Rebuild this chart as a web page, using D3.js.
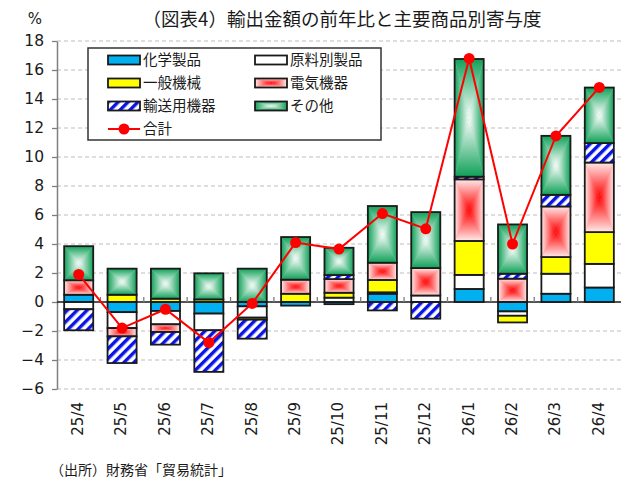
<!DOCTYPE html>
<html>
<head>
<meta charset="utf-8">
<script src="https://cdn.jsdelivr.net/npm/d3@7"></script>
<style>
  body { margin: 0; background: #fff; }
  text { font-family: "DejaVu Sans", sans-serif; fill: #1a1a1a; }
  .jp { font-family: "Noto Sans CJK JP", sans-serif; }
</style>
</head>
<body>
<svg id="chart"></svg>
<script>
// categories (year/month)
const categories = ['25/4', '25/5', '25/6', '25/7', '25/8', '25/9', '25/10', '25/11', '25/12', '26/1', '26/2', '26/3', '26/4'];

// contributions by product group (% pt)
const chemicals = [0.5, -0.7, -0.62, -0.8, -0.3, -0.25, -0.15, 0.57, 0, 0.9, -0.65, 0.57, 1.0];
const materials = [-0.5, -1.1, -0.92, -1.15, -0.78, 0, 0.3, 0.1, 0.45, 0.97, -0.3, 1.38, 1.63];
const machinery = [0, 0.5, 0.23, 0.18, -0.14, 0.57, 0.34, 0.85, 0, 2.34, -0.46, 1.15, 2.19];
const electrical = [1.0, -0.57, -0.53, 0, 0, 0.97, 0.94, 1.19, 1.89, 4.25, 1.61, 3.49, 4.8];
const transport = [-1.45, -1.84, -0.87, -2.87, -1.31, 0, 0.28, -0.58, -1.15, 0.18, 0.34, 0.8, 1.34];
const others = [2.35, 1.8, 2.07, 1.8, 2.3, 2.94, 1.88, 3.91, 3.86, 8.12, 3.4, 4.07, 3.83];

// total y/y change (%)
const total = [1.9, -1.8, -0.5, -2.8, -0.1, 4.1, 3.65, 6.1, 5.05, 16.8, 4.0, 11.45, 14.8];

const seriesKeys = ['chem', 'mat', 'mach', 'elec', 'trans', 'other'];
const seriesNames = ['化学製品', '原料別製品', '一般機械', '電気機器', '輸送用機器', 'その他'];
const yTicks = [-6, -4, -2, 0, 2, 4, 6, 8, 10, 12, 14, 16, 18];

class StackedChart {

  constructor(_config) {
    this.config = {
      parentElement: _config.parentElement,
      containerWidth: 625,
      containerHeight: 479,
      margin: { top: 41, right: 4, bottom: 90, left: 57 }
    };
    this.initVis();
  }

  initVis() {
    let vis = this;
    vis.width = vis.config.containerWidth - vis.config.margin.left - vis.config.margin.right;
    vis.height = vis.config.containerHeight - vis.config.margin.top - vis.config.margin.bottom;

    vis.svg = d3.select(vis.config.parentElement)
        .attr('width', vis.config.containerWidth)
        .attr('height', vis.config.containerHeight);

    vis.svg.append('rect')
        .attr('width', vis.config.containerWidth)
        .attr('height', vis.config.containerHeight)
        .attr('fill', '#fff');

    vis.defs = vis.svg.append('defs');
    vis.makeDefs();

    vis.chart = vis.svg.append('g')
        .attr('transform', `translate(${vis.config.margin.left},${vis.config.margin.top})`);

    vis.xScale = d3.scaleBand()
        .domain(categories)
        .range([0, vis.width])
        .paddingInner(0.33)
        .paddingOuter(0.165);

    vis.yScale = d3.scaleLinear()
        .domain([-6, 18])
        .range([vis.height, 0]);

    // title etc
    vis.svg.append('text')
        .attr('class', 'jp')
        .attr('x', 342)
        .attr('y', 26)
        .attr('text-anchor', 'middle')
        .style('font-size', '18.5px')
        .text('（図表4）輸出金額の前年比と主要商品別寄与度');

    vis.svg.append('text')
        .attr('x', 35)
        .attr('y', 24)
        .attr('text-anchor', 'middle')
        .style('font-size', '15px')
        .text('%');

    vis.svg.append('text')
        .attr('class', 'jp')
        .attr('x', 50)
        .attr('y', 475)
        .style('font-size', '14px')
        .text('（出所）財務省「貿易統計」');
  }

  makeDefs() {
    let vis = this;
    // rectangular "path" gradients built from 4 linear gradients
    const schemes = {
      red: { edge: '#ffeaea', center: '#ff0000', mid: '#ff8a8a' },
      green: { edge: '#0fa158', center: '#ffffff', mid: '#86d0aa' }
    };
    const dirs = {
      top: [0, 0, 0, 1],
      bottom: [0, 1, 0, 0],
      left: [0, 0, 1, 0],
      right: [1, 0, 0, 0]
    };
    Object.entries(schemes).forEach(([name, s]) => {
      Object.entries(dirs).forEach(([dir, c]) => {
        const lg = vis.defs.append('linearGradient')
            .attr('id', `${name}-${dir}`)
            .attr('x1', c[0]).attr('y1', c[1])
            .attr('x2', c[2]).attr('y2', c[3]);
        lg.append('stop').attr('offset', 0).attr('stop-color', s.edge);
        lg.append('stop').attr('offset', 1).attr('stop-color', s.center);
      });
    });
    vis.schemes = schemes;

    const pat = vis.defs.append('pattern')
        .attr('id', 'hatch')
        .attr('patternUnits', 'userSpaceOnUse')
        .attr('width', 7)
        .attr('height', 7)
        .attr('patternTransform', 'rotate(45)');
    pat.append('rect').attr('width', 7).attr('height', 7).attr('fill', '#fff');
    pat.append('rect').attr('width', 3.4).attr('height', 7).attr('fill', '#0a14e6');
  }

  // draw a filled box in the style of a series
  drawBox(g, key, x, y, w, h) {
    let vis = this;
    const solid = { chem: '#00b0f0', mat: '#ffffff', mach: '#ffff00', trans: 'url(#hatch)' };
    if (key in solid) {
      g.append('rect')
          .attr('x', x).attr('y', y).attr('width', w).attr('height', h)
          .attr('fill', solid[key]);
    } else {
      const scheme = key === 'elec' ? 'red' : 'green';
      const cx = x + w / 2, cy = y + h / 2;
      g.append('rect')
          .attr('x', x).attr('y', y).attr('width', w).attr('height', h)
          .attr('fill', vis.schemes[scheme].mid);
      const tris = [
        ['top', [[x, y], [x + w, y], [cx, cy]]],
        ['bottom', [[x, y + h], [x + w, y + h], [cx, cy]]],
        ['left', [[x, y], [x, y + h], [cx, cy]]],
        ['right', [[x + w, y], [x + w, y + h], [cx, cy]]]
      ];
      tris.forEach(([dir, pts]) => {
        g.append('path')
            .attr('d', 'M' + pts.map(p => p.join(',')).join('L') + 'Z')
            .attr('fill', `url(#${scheme}-${dir})`);
      });
    }
    g.append('rect')
        .attr('x', x).attr('y', y).attr('width', w).attr('height', h)
        .attr('fill', 'none')
        .attr('stroke', '#1a1a1a')
        .attr('stroke-width', 1.8);
  }

  updateVis() {
    let vis = this;
    vis.data = categories.map((c, i) => ({
      cat: c,
      chem: chemicals[i],
      mat: materials[i],
      mach: machinery[i],
      elec: electrical[i],
      trans: transport[i],
      other: others[i],
      total: total[i]
    }));

    vis.stacked = d3.stack()
        .keys(seriesKeys)
        .offset(d3.stackOffsetDiverging)(vis.data);

    vis.renderVis();
  }

  renderVis() {
    let vis = this;
    const y0 = vis.yScale(0);

    // gridlines
    vis.chart.append('g')
        .selectAll('line')
        .data(yTicks.filter(d => d !== 0))
        .join('line')
        .attr('x1', 0)
        .attr('x2', vis.width)
        .attr('y1', d => vis.yScale(d))
        .attr('y2', d => vis.yScale(d))
        .attr('stroke', '#bdbdbd')
        .attr('stroke-width', 1)
        .attr('stroke-dasharray', '4,3');

    // y axis
    vis.yAxisG = vis.chart.append('g')
        .call(d3.axisLeft(vis.yScale).tickValues(yTicks).tickSize(5).tickPadding(8).tickSizeOuter(0));
    vis.yAxisG.select('.domain').attr('stroke', '#7f7f7f').attr('stroke-width', 1.5);
    vis.yAxisG.selectAll('.tick line').attr('stroke', '#7f7f7f').attr('stroke-width', 1.3);
    vis.yAxisG.selectAll('.tick text')
        .style('font-size', '15.5px')
        .style('font-family', '"DejaVu Sans", sans-serif')
        .attr('fill', '#1a1a1a');

    // bars
    const bw = vis.xScale.bandwidth();
    vis.stacked.forEach(layer => {
      layer.forEach(seg => {
        if (Math.abs(seg[1] - seg[0]) < 0.01) return;
        const g = vis.chart.append('g');
        const top = vis.yScale(seg[1]);
        const bot = vis.yScale(seg[0]);
        vis.drawBox(g, layer.key, vis.xScale(seg.data.cat), top, bw, bot - top);
      });
    });

    // zero line and ticks between categories
    vis.chart.append('line')
        .attr('x1', 0).attr('x2', vis.width)
        .attr('y1', y0).attr('y2', y0)
        .attr('stroke', '#1a1a1a')
        .attr('stroke-width', 1.5);

    const step = vis.xScale.step();
    vis.chart.append('g')
        .selectAll('line')
        .data(d3.range(1, categories.length))
        .join('line')
        .attr('x1', d => d * step)
        .attr('x2', d => d * step)
        .attr('y1', y0)
        .attr('y2', y0 - 5)
        .attr('stroke', '#7f7f7f')
        .attr('stroke-width', 1.3);

    // category labels
    vis.chart.append('g')
        .selectAll('text')
        .data(categories)
        .join('text')
        .attr('transform', d => `translate(${vis.xScale(d) + bw / 2 - 1},${vis.height + 13}) rotate(-90)`)
        .attr('text-anchor', 'end')
        .attr('dy', '0.36em')
        .style('font-size', '15px')
        .text(d => d);

    // total line
    const line = d3.line()
        .x(d => vis.xScale(d.cat) + bw / 2)
        .y(d => vis.yScale(d.total));

    vis.chart.append('path')
        .datum(vis.data)
        .attr('d', line)
        .attr('fill', 'none')
        .attr('stroke', '#ff0000')
        .attr('stroke-width', 2);

    vis.chart.selectAll('.point')
        .data(vis.data)
        .join('circle')
        .attr('class', 'point')
        .attr('cx', d => vis.xScale(d.cat) + bw / 2)
        .attr('cy', d => vis.yScale(d.total))
        .attr('r', 5.5)
        .attr('fill', '#ff0000');

    vis.renderLegend();
  }

  renderLegend() {
    let vis = this;
    const lg = vis.svg.append('g');
    lg.append('rect')
        .attr('x', 88).attr('y', 48)
        .attr('width', 293).attr('height', 92)
        .attr('fill', '#fff')
        .attr('stroke', '#333')
        .attr('stroke-width', 1.5);

    const colX = [108, 255];
    const rowY = [60, 83, 106, 129];
    seriesKeys.forEach((key, i) => {
      const sx = colX[i % 2];
      const sy = rowY[Math.floor(i / 2)];
      vis.drawBox(lg, key, sx, sy - 4.5, 32, 9);
      lg.append('text')
          .attr('class', 'jp')
          .attr('x', sx + 35)
          .attr('y', sy)
          .attr('dy', '0.35em')
          .style('font-size', '14.5px')
          .text(seriesNames[i]);
    });

    lg.append('line')
        .attr('x1', 108).attr('x2', 140)
        .attr('y1', rowY[3]).attr('y2', rowY[3])
        .attr('stroke', '#ff0000')
        .attr('stroke-width', 2);
    lg.append('circle')
        .attr('cx', 124).attr('cy', rowY[3])
        .attr('r', 5.5)
        .attr('fill', '#ff0000');
    lg.append('text')
        .attr('class', 'jp')
        .attr('x', 143)
        .attr('y', rowY[3])
        .attr('dy', '0.35em')
        .style('font-size', '14.5px')
        .text('合計');
  }
}

const chart = new StackedChart({ parentElement: '#chart' });
chart.updateVis();
</script>
</body>
</html>
